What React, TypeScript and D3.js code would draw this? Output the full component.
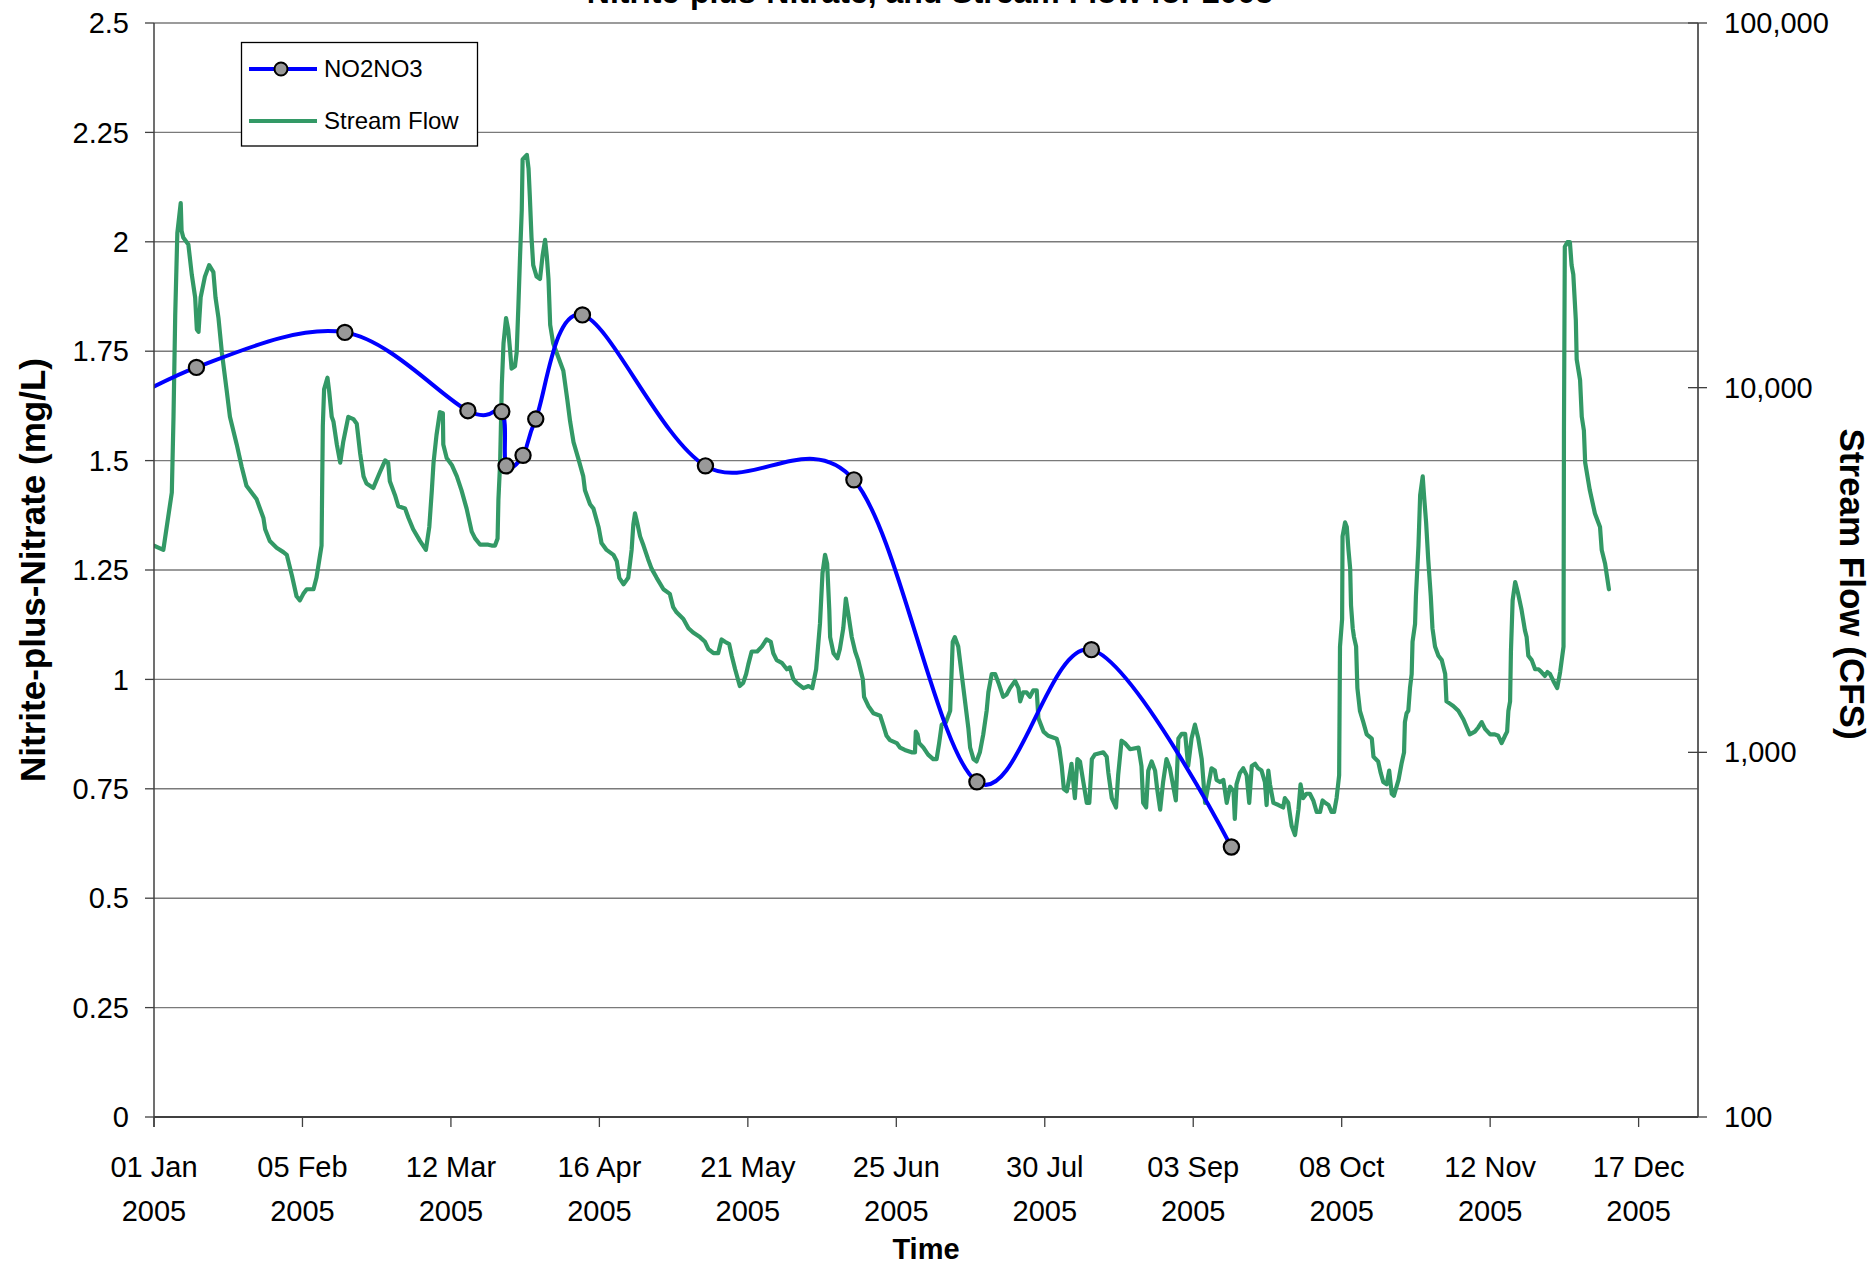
import React from 'react';
import * as d3 from 'd3';

const W = 1876;
const H = 1271;
const FONT = "'Liberation Sans', Arial, Helvetica, sans-serif";

const chartTitle = 'Nitrite-plus-Nitrate, and Stream Flow for 2005';
const xTickDates = ['2005-01-01', '2005-02-05', '2005-03-12', '2005-04-16', '2005-05-21', '2005-06-25', '2005-07-30', '2005-09-03', '2005-10-08', '2005-11-12', '2005-12-17'];
const leftTicks = [0, 0.25, 0.5, 0.75, 1, 1.25, 1.5, 1.75, 2, 2.25, 2.5];
const rightTicks = [100, 1000, 10000, 100000];

// NO2NO3 samples (mg/L)
const no2Dates = ['2004-12-10', '2005-01-11', '2005-02-15', '2005-03-16', '2005-03-24', '2005-03-25', '2005-03-29', '2005-04-01', '2005-04-12', '2005-05-11', '2005-06-15', '2005-07-14', '2005-08-10', '2005-09-12'];
const no2Values = [1.55, 1.713, 1.793, 1.614, 1.612, 1.488, 1.512, 1.595, 1.833, 1.488, 1.456, 0.766, 1.068, 0.617];

// Stream flow (CFS), day offsets from 01 Jan 2005
const flowDay = [
  0, 2.2, 4.2, 4.6, 5.0, 5.5, 6.3, 6.5, 6.9, 8.1, 8.9, 9.7, 10.1, 10.5, 11.0, 12.0, 13.0, 14.0, 14.5, 15.2, 16.0, 17.1, 17.9, 19.5, 20.7, 21.8, 23.0, 24.2, 25.8, 26.2, 27.3, 28.9, 30.5, 31.3, 32.5, 33.6, 34.4, 35.2, 36.0, 37.6, 38.3, 39.5, 39.8, 40.1, 40.9, 41.3, 41.9, 42.3, 43.1, 43.9, 44.6, 45.8, 47.0, 47.8, 48.6, 49.4, 50.1, 51.7, 53.3, 54.5, 55.2, 55.6, 56.8, 57.6, 59.2, 60.0, 61.1, 62.7, 64.1, 64.9, 65.5, 65.9, 66.6, 67.4, 68.1, 68.2, 69.0, 70.2, 71.4, 72.5, 73.7, 74.9, 75.7, 76.9, 78.8, 79.6, 80.4, 81.0, 81.2, 81.6, 82.0, 82.4, 83.0, 83.5, 83.9, 84.3, 85.1, 85.5, 85.9, 86.3, 86.7, 86.9, 87.9, 88.3, 88.6, 89.0, 89.4, 90.2, 91.0, 91.6, 92.2, 92.6, 93.0, 93.4, 94.1, 95.3, 96.5, 97.4, 98.1, 98.9, 100.0, 101.2, 101.6, 102.8, 103.6, 104.8, 105.5, 106.7, 108.3, 109.1, 109.7, 110.7, 111.8, 112.6, 113.0, 113.4, 113.9, 114.6,
  115.4, 116.5, 117.3, 118.5, 120.1, 121.6, 122.4, 123.2, 124.8, 126.0, 127.1, 128.7, 129.9, 130.7, 131.9, 133.0, 133.8, 134.6, 135.6, 136.2, 137.0, 138.1, 138.9, 139.6, 140.1, 140.9, 142.2, 143.3, 144.4, 145.4, 146.0, 146.8, 148.0, 149.2, 149.9, 150.7, 151.5, 153.1, 154.3, 155.2, 156.1, 157.0, 157.6, 158.2, 158.7, 159.2, 159.4, 160.2, 161.1, 161.7, 162.5, 163.1, 163.7, 164.5, 165.3, 166.0, 167.1, 167.4, 168.4, 169.6, 171.2, 171.9, 172.7, 173.5, 175.1, 175.9, 177.0, 178.6, 179.4, 179.6, 180.0, 180.4, 181.4, 182.5, 183.7, 184.5, 185.1, 185.7, 186.7, 187.7, 188.3, 188.8, 189.6, 190.4, 191.2, 192.0, 192.4, 193.2, 193.9, 194.7, 195.5, 196.3, 196.7, 197.5, 198.3, 199.1, 200.2, 201.0, 201.8, 203.0, 203.8, 204.2, 204.9, 205.7, 206.5, 207.3, 208.1, 208.5, 209.7, 210.8, 212.8, 213.4, 214.0, 214.5, 215.2, 215.6, 216.3, 217.1, 217.7, 218.3, 219.1, 219.9, 220.5, 221.1, 221.8, 223.8, 224.6, 225.0, 225.8, 226.8, 227.3, 228.1, 228.9, 230.1,
  232.1, 232.8, 233.2, 233.9, 234.4, 235.2, 236.0, 236.5, 237.2, 237.9, 238.7, 239.5, 240.3, 240.9, 241.5, 242.3, 243.1, 243.8, 244.6, 245.4, 246.2, 247.0, 247.8, 248.6, 249.3, 250.1, 250.5, 251.3, 252.1, 252.9, 253.7, 254.5, 254.8, 255.2, 256.0, 256.8, 257.6, 258.2, 258.8, 259.6, 260.3, 261.1, 261.9, 262.3, 262.7, 263.1, 263.9, 265.1, 266.2, 266.6, 267.4, 268.2, 269.0, 269.8, 270.3, 270.9, 271.7, 272.5, 273.3, 274.1, 274.9, 275.5, 276.1, 276.9, 277.6, 278.2, 278.8, 279.4, 279.6, 280.1, 280.2, 280.8, 281.2, 281.6, 282.0, 282.2, 282.6, 282.9, 283.4, 283.7, 284.3, 285.1, 285.9, 287.1, 287.5, 288.6, 289.2, 289.8, 290.6, 291.2, 291.8, 292.3, 293.4, 294.1, 294.7, 294.9, 295.3, 295.7, 296.1, 296.5, 296.7, 297.3, 297.5, 298.1, 298.5, 299.1, 299.4, 299.9, 300.4, 301.0, 301.4, 302.0, 302.8, 303.6, 304.4, 304.7, 305.5, 306.3, 307.5, 308.7, 309.5, 310.2, 311.4, 312.2, 313.0, 313.8, 315.0, 316.1, 316.9, 317.7, 318.5, 319.0, 319.3, 319.7, 319.9, 320.3, 320.9, 321.6, 322.4, 323.2, 323.6, 324.0, 324.8, 325.6, 326.4, 327.1, 327.9, 328.5, 329.1, 329.9, 330.8, 331.5, 332.3, 332.4, 332.6, 333.2, 333.8, 334.2, 334.6, 335.2, 335.4, 336.2, 336.6, 337.1, 337.4, 338.5, 339.7, 340.9, 341.3, 342.1, 342.6, 343.0
];
const flowCfs = [
  3690, 3590, 5160, 8320, 15750, 26560, 32080, 26950, 25800, 24700, 20450, 17690, 14440, 14230, 17690, 20160, 21680, 20750, 17690, 15520, 12490, 9900, 8320, 6990, 6050, 5380, 5160, 4940, 4390, 4090, 3800, 3640, 3540, 3480, 3060, 2680, 2610, 2720, 2800, 2800, 3010, 3690, 7850, 9900, 10650, 9760, 8320, 8080, 6990, 6230, 7090, 8320, 8200, 7960, 6600, 5710, 5460, 5310, 5880, 6320, 6230, 5540, 5080, 4730, 4660, 4390, 4090, 3800, 3590, 4150, 5230, 6230, 7410, 8570, 8510, 6990, 6410, 6140, 5710, 5230, 4660, 4030, 3860, 3710, 3710, 3690, 3690, 3860, 4940, 6230, 10190, 13240, 15520, 14440, 12860, 11280, 11450, 12490, 16690, 22980, 30700, 42240, 43490, 39870, 33500, 25800, 21680, 20160, 19870, 22980, 25430, 22980, 19870, 14860, 13240, 12130, 11130, 9340, 8080, 7090, 6410, 5710, 5230, 4790, 4660, 4150, 3750, 3590, 3480, 3340, 3010, 2890, 3010, 3590, 4210, 4520, 4270, 3910,
  3690, 3380, 3190, 3010, 2800, 2720, 2500, 2420, 2320, 2190, 2130, 2070, 2010, 1920, 1870, 1870, 2040, 2010, 1980, 1840, 1690, 1520, 1550, 1640, 1740, 1890, 1890, 1950, 2040, 2010, 1870, 1790, 1760, 1690, 1710, 1590, 1550, 1500, 1520, 1500, 1690, 2250, 3100, 3480, 3290, 2460, 2070, 1870, 1810, 1920, 2190, 2640, 2390, 2070, 1890, 1790, 1590, 1420, 1340, 1280, 1260, 1190, 1110, 1080, 1060, 1030, 1015, 1000, 1000, 1140, 1120, 1060, 1030, 986, 958, 958, 1060, 1190, 1210, 1300, 2010, 2070, 1950, 1640, 1380, 1160, 1030, 958, 944, 1000, 1120, 1300, 1460, 1640, 1640, 1550, 1420, 1440, 1500, 1570, 1500, 1380, 1460, 1460, 1420, 1480, 1480, 1240, 1140, 1110, 1090, 1030, 917, 793, 782, 829, 930, 749, 958, 944, 829, 727, 727, 958, 986, 1000, 972, 878, 749, 706, 865, 1076, 1060, 1020,
  1030, 917, 727, 706, 891, 944, 891, 793, 696, 829, 958, 904, 805, 738, 1091, 1124, 1124, 917, 1091, 1191, 1091, 958, 727, 817, 904, 891, 840, 829, 840, 727, 805, 782, 657, 817, 878, 904, 865, 727, 917, 930, 904, 891, 829, 717, 891, 817, 727, 717, 706, 749, 727, 629, 593, 696, 817, 749, 770, 770, 738, 686, 686, 738, 727, 717, 686, 686, 749, 865, 1950, 2320, 3910, 4270, 4150, 3590, 3190, 2530, 2190, 2070, 1950, 1500, 1300, 1210, 1120, 1090, 972, 944, 878, 829, 817, 891, 770, 760, 840, 930, 1000, 1210, 1280, 1300, 1500, 1640, 2010, 2250, 2680, 3690, 5080, 5710, 5080, 4270, 3380, 2680, 2190, 1950, 1840, 1790, 1640, 1380, 1360, 1340, 1300, 1230, 1170, 1120, 1140, 1170, 1210, 1160, 1120, 1120, 1110, 1060, 1110, 1140, 1300, 1380, 1890, 2610, 2930, 2720, 2460, 2160, 2070, 1840, 1790, 1690, 1690, 1660, 1620, 1660, 1640, 1570, 1500, 1660, 1950, 7630, 24350, 25060, 25060, 21680, 20450, 15300, 11960, 10490, 8320, 7630, 6230, 5230, 4520, 4150, 3590, 3290, 3010, 2800
];

const PL = 154, PR = 1698, PT = 23, PB = 1117;
const BLUE = '#0000ff';
const GREEN = '#339966';

export default function App() {
  const day0 = Date.UTC(2005, 0, 1);
  const x = d3.scaleUtc().domain([new Date(day0), new Date(Date.UTC(2005, 11, 31))]).range([PL, PR]);
  const yL = d3.scaleLinear().domain([0, 2.5]).range([PB, PT]);
  const yR = d3.scaleLog().domain([100, 100000]).range([PB, PT]);
  const parse = d3.utcParse('%Y-%m-%d');
  const fmtDM = d3.utcFormat('%d %b');
  const fmtY = d3.utcFormat('%Y');
  const fmtR = d3.format(',');

  const no2 = no2Dates.map((d, i) => ({ date: parse(d) as Date, v: no2Values[i] }));
  const flow = flowDay.map((d, i) => ({ date: new Date(day0 + d * 86400000), v: flowCfs[i] }));

  const no2Line = d3.line<any>().x(d => x(d.date)).y(d => yL(d.v)).curve(d3.curveCardinal.tension(0));
  const flowLine = d3.line<any>().x(d => x(d.date)).y(d => yR(d.v));

  const xTicks = xTickDates.map(s => parse(s) as Date);

  return (
    <svg width={W} height={H} style={{ position: 'absolute', left: 0, top: 0, background: '#fff' }} fontFamily={FONT}>
      <defs>
        <clipPath id="plotClip">
          <rect x={PL} y={PT - 2} width={PR - PL} height={PB - PT + 4} />
        </clipPath>
      </defs>
      <rect x={0} y={0} width={W} height={H} fill="#fff" />
      {/* title (cut off at top edge, as in the source image) */}
      <text x={930} y={3} textAnchor="middle" fontSize={32} fontWeight="bold" fill="#000">{chartTitle}</text>

      {/* gridlines */}
      {leftTicks.map(t => (
        <line key={'g' + t} x1={PL} x2={PR} y1={yL(t)} y2={yL(t)} stroke="#7a7a7a" strokeWidth={1.4} />
      ))}

      {/* series */}
      <g clipPath="url(#plotClip)">
        <path d={flowLine(flow) || ''} fill="none" stroke={GREEN} strokeWidth={4.2} strokeLinejoin="round" strokeLinecap="round" />
        <path d={no2Line(no2) || ''} fill="none" stroke={BLUE} strokeWidth={4} strokeLinejoin="round" />
        {no2.map((d, i) => (
          <circle key={'m' + i} cx={x(d.date)} cy={yL(d.v)} r={7.6} fill="#999999" stroke="#000" strokeWidth={2.2} />
        ))}
      </g>

      {/* axes */}
      <line x1={PL} x2={PL} y1={PT} y2={PB + 10} stroke="#404040" strokeWidth={1.5} />
      <line x1={PR} x2={PR} y1={PT} y2={PB} stroke="#505050" strokeWidth={1.8} />
      <line x1={PL} x2={PR} y1={PB} y2={PB} stroke="#404040" strokeWidth={2.2} />
      {leftTicks.map(t => (
        <g key={'lt' + t}>
          <line x1={PL - 9} x2={PL} y1={yL(t)} y2={yL(t)} stroke="#404040" strokeWidth={1.3} />
          <text x={129} y={yL(t)} dy="0.35em" textAnchor="end" fontSize={29} fill="#000">{String(t)}</text>
        </g>
      ))}
      {rightTicks.map(t => (
        <g key={'rt' + t}>
          <line x1={PR - 10} x2={PR + 9} y1={yR(t)} y2={yR(t)} stroke="#404040" strokeWidth={1.3} />
          <text x={1724} y={yR(t)} dy="0.35em" textAnchor="start" fontSize={29} fill="#000">{fmtR(t)}</text>
        </g>
      ))}
      {xTicks.map((t, i) => (
        <g key={'xt' + i}>
          <line x1={x(t)} x2={x(t)} y1={PB} y2={PB + 10} stroke="#404040" strokeWidth={1.3} />
          <text x={x(t)} y={1177} textAnchor="middle" fontSize={29} fill="#000">{fmtDM(t)}</text>
          <text x={x(t)} y={1221} textAnchor="middle" fontSize={29} fill="#000">{fmtY(t)}</text>
        </g>
      ))}

      {/* axis titles */}
      <text x={926} y={1259} textAnchor="middle" fontSize={29} fontWeight="bold" fill="#000">Time</text>
      <text transform={`translate(45,${(PT + PB) / 2}) rotate(-90)`} textAnchor="middle" fontSize={35} fontWeight="bold" fill="#000">Nitrite-plus-Nitrate (mg/L)</text>
      <text transform={`translate(1840,584) rotate(90)`} textAnchor="middle" fontSize={35} fontWeight="bold" fill="#000">Stream Flow (CFS)</text>

      {/* legend */}
      <rect x={241.5} y={42.5} width={236} height={103.5} fill="#fff" stroke="#000" strokeWidth={1.3} />
      <line x1={249} x2={317} y1={69} y2={69} stroke={BLUE} strokeWidth={4} />
      <circle cx={281} cy={69} r={6.5} fill="#999999" stroke="#000" strokeWidth={2} />
      <text x={324} y={69} dy="0.35em" fontSize={24} fill="#000">NO2NO3</text>
      <line x1={249} x2={317} y1={121} y2={121} stroke={GREEN} strokeWidth={4} />
      <text x={324} y={121} dy="0.35em" fontSize={24} fill="#000">Stream Flow</text>
    </svg>
  );
}
